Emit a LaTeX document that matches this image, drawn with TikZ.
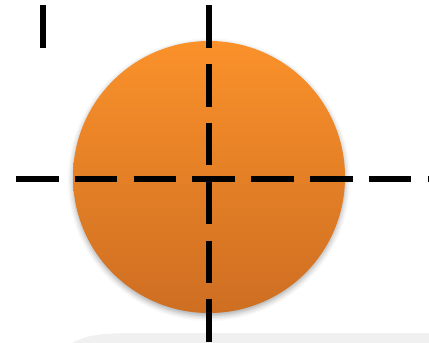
\documentclass[tikz,border=0pt]{standalone}
\usetikzlibrary{shadows.blur}
\begin{document}
\begin{tikzpicture}[x=0.75pt, y=-0.75pt]
  % colours
  \definecolor{balltop}{RGB}{250,145,42}
  \definecolor{ballbottom}{RGB}{206,110,34}
  \definecolor{floorgray}{RGB}{240,240,240}

  % styles
  \tikzset{
    ball/.style={circle, minimum size=204pt, inner sep=0pt, draw=none,
      top color=balltop, bottom color=ballbottom,
      blur shadow={shadow xshift=0pt, shadow yshift=-2pt, shadow blur radius=4pt, shadow opacity=35}},
    axisline/.style={line width=4.3pt, black, dash pattern=on 31.9pt off 12.2pt},
  }

  \useasboundingbox (0,0) rectangle (429,343);
  \clip (0,0) rectangle (429,343);

  % floor
  \fill[floorgray] (72,343) .. controls (88,334) and (105,333) .. (140,333) -- (440,333) -- (440,343) -- cycle;

  % ball
  \node[ball] (sun) at (209,177) {};

  % ends of the lines
  \coordinate (vtop) at (208.7,5.3);
  \coordinate (vbot) at (208.7,350);
  \coordinate (hleft) at (16,178.7);
  \coordinate (hright) at (440,178.7);
  \coordinate (ticktop) at (42.7,5.3);
  \coordinate (tickbot) at (42.7,47.7);

  % lines
  \draw[axisline] (hleft) -- (hright);
  \draw[axisline] (vtop) -- (vbot);
  \draw[axisline] (ticktop) -- (tickbot);
\end{tikzpicture}
\end{document}
